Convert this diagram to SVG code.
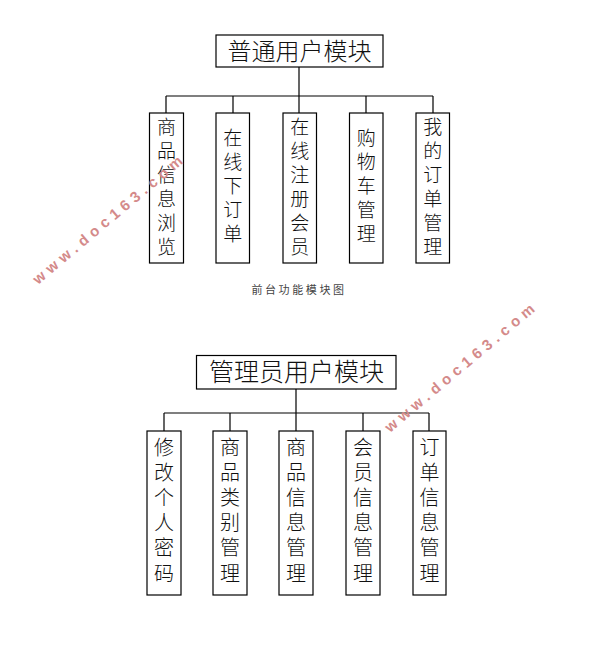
<svg xmlns="http://www.w3.org/2000/svg" width="593" height="657" viewBox="0 0 593 657">
<style>
.box{fill:#fff;stroke:#000;stroke-width:1.2}
.ln{stroke:#000;stroke-width:1.2;fill:none}
.t{font-family:"Noto Sans CJK SC",sans-serif;fill:#111;text-anchor:middle;font-weight:300}
.title{font-size:24px}
.v{font-family:"Noto Sans CJK SC",sans-serif;fill:#111;font-weight:300;writing-mode:vertical-rl;text-anchor:start}
.c{font-size:19px;letter-spacing:5px}
.c2{font-size:20px;letter-spacing:5.2px}
.cap{font-family:"Noto Sans CJK SC",sans-serif;font-size:11px;fill:#444;letter-spacing:2.6px;text-anchor:middle}
.wm{font-family:"Liberation Sans",Arial,sans-serif;font-size:15px;font-weight:bold;fill:#d48a8a;letter-spacing:5px}
</style>
<rect width="593" height="657" fill="#fff"/>
<g id="connectors">
<path class="ln" d="M299,67V113M166,96H433M166,96V113M233,96V113M366,96V113M433,96V113"/>
<path class="ln" d="M296,389V431M164,413H429M164,413V431M230,413V431M363,413V431M429,413V431"/>
</g>
<g id="top-root"><rect class="box" x="216" y="35" width="167" height="32"/><text class="t title" x="299.5" y="59.5">普通用户模块</text></g>
<g id="top-1"><rect class="box" x="149.5" y="113" width="34" height="150"/><text class="v c" x="166.5" y="117.5">商品信息浏览</text></g>
<g id="top-2"><rect class="box" x="216" y="113" width="33.5" height="150"/><text class="v c" x="232.7" y="128.5">在线下订单</text></g>
<g id="top-3"><rect class="box" x="283" y="113" width="33.5" height="150"/><text class="v c" x="299.7" y="117.5">在线注册会员</text></g>
<g id="top-4"><rect class="box" x="349.5" y="113" width="33.5" height="150"/><text class="v c" x="366.2" y="128.5">购物车管理</text></g>
<g id="top-5"><rect class="box" x="416" y="113" width="33.5" height="150"/><text class="v c" x="432.7" y="117.5">我的订单管理</text></g>
<text class="cap" x="299" y="294">前台功能模块图</text>
<g id="bot-root"><rect class="box" x="196.5" y="355.5" width="199.5" height="33.5"/><text class="t title" x="296.5" y="381" style="font-size:25px">管理员用户模块</text></g>
<g id="bot-1"><rect class="box" x="147" y="431" width="34" height="164"/><text class="v c2" x="164" y="437">修改个人密码</text></g>
<g id="bot-2"><rect class="box" x="213" y="431" width="34" height="164"/><text class="v c2" x="230" y="437">商品类别管理</text></g>
<g id="bot-3"><rect class="box" x="279" y="431" width="34" height="164"/><text class="v c2" x="296" y="437">商品信息管理</text></g>
<g id="bot-4"><rect class="box" x="346" y="431" width="34" height="164"/><text class="v c2" x="363" y="437">会员信息管理</text></g>
<g id="bot-5"><rect class="box" x="413" y="431" width="33" height="164"/><text class="v c2" x="429.5" y="437">订单信息管理</text></g>
<text class="wm" transform="translate(38,285) rotate(-40)">www.doc163.com</text>
<text class="wm" transform="translate(390,433) rotate(-40)">www.doc163.com</text>
</svg>
